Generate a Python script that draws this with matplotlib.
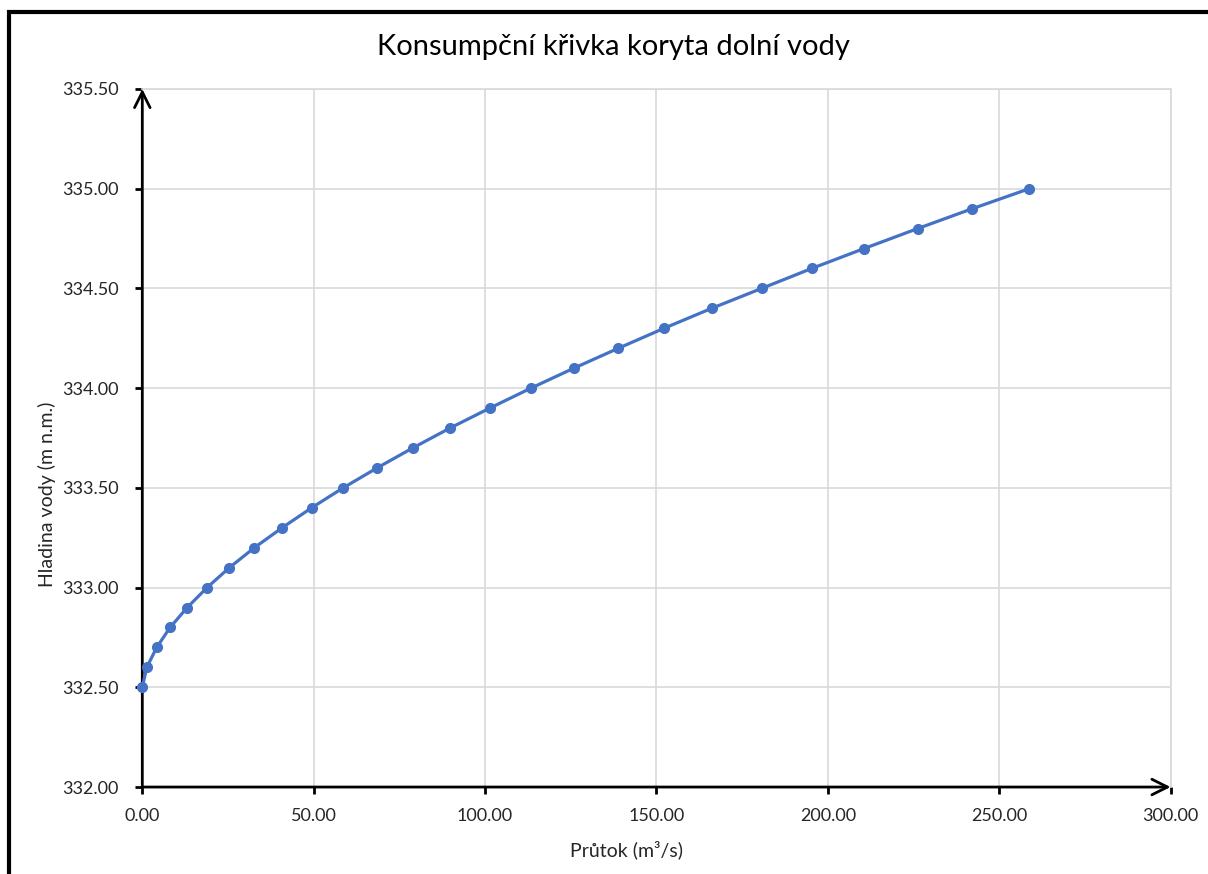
import matplotlib
matplotlib.use("Agg")
import matplotlib.pyplot as plt
from matplotlib.patches import Rectangle

plt.rcParams['font.family'] = ['Lato', 'DejaVu Sans']

# data
levels = [332.5, 332.6, 332.7, 332.8, 332.9, 333.0, 333.1, 333.2, 333.3,
          333.4, 333.5, 333.6, 333.7, 333.8, 333.9, 334.0, 334.1, 334.2,
          334.3, 334.4, 334.5, 334.6, 334.7, 334.8, 334.9, 335.0]
flows = [0.0, 1.3, 4.2, 8.1, 13.1, 18.9, 25.4, 32.7, 40.8,
         49.4, 58.6, 68.5, 78.9, 89.8, 101.4, 113.4, 125.9, 138.9,
         152.2, 166.1, 180.7, 195.3, 210.6, 226.2, 242.2, 258.8]

x_ticks = [0, 50, 100, 150, 200, 250, 300]
y_ticks = [332.0, 332.5, 333.0, 333.5, 334.0, 334.5, 335.0, 335.5]

blue = '#4472C4'
grid_col = '#D9D9D9'
text_col = '#262626'

fig = plt.figure(figsize=(12.08, 8.74), dpi=100)
ax = fig.add_axes([0.1178, 0.0995, 0.969 - 0.1178, 0.8982 - 0.0995])

ax.plot(flows, levels, color=blue, lw=2.3, marker='o', markersize=7,
        zorder=5, clip_on=False)

ax.set_xlim(0, 300)
ax.set_ylim(332.0, 335.5)
ax.set_xticks(x_ticks)
ax.set_yticks(y_ticks)
ax.set_xticklabels([f'{v:.2f}' for v in x_ticks])
ax.set_yticklabels([f'{v:.2f}' for v in y_ticks])
ax.grid(True, color=grid_col, lw=1.2)
ax.set_axisbelow(True)

for side in ['top', 'right']:
    ax.spines[side].set_color(grid_col)
    ax.spines[side].set_linewidth(1.2)
for side in ['left', 'bottom']:
    ax.spines[side].set_visible(False)

ax.tick_params(axis='both', colors='black', width=2, length=5,
               labelsize=13, labelcolor=text_col)
ax.tick_params(axis='y', pad=12)
ax.tick_params(axis='x', pad=10)

# axis lines with arrow heads
ax.annotate('', xy=(0, 1.0), xytext=(0, 0), xycoords='axes fraction',
            arrowprops=dict(arrowstyle='->', lw=2, color='black',
                            mutation_scale=28, shrinkA=0, shrinkB=0))
ax.annotate('', xy=(1.0, 0), xytext=(0, 0), xycoords='axes fraction',
            arrowprops=dict(arrowstyle='->', lw=2, color='black',
                            mutation_scale=28, shrinkA=0, shrinkB=0))

fig.text(627 / 1208, 1 - 850 / 874, 'Průtok (m³/s)', fontsize=14,
         color=text_col, ha='center', va='center')
fig.text(47 / 1208, 1 - 494 / 874, 'Hladina vody (m n.m.)', fontsize=14,
         color=text_col, ha='center', va='center', rotation=90)
fig.text(0.508, 0.946, 'Konsumpční křivka koryta dolní vody', fontsize=21,
         color='black', ha='center', va='center')

# outer frame
fig.patches.append(Rectangle((9 / 1208, -0.1), 2, 1.1 - 12 / 874,
                             transform=fig.transFigure, fill=False,
                             lw=3, edgecolor='black'))

fig.savefig('out.png', dpi=100)
